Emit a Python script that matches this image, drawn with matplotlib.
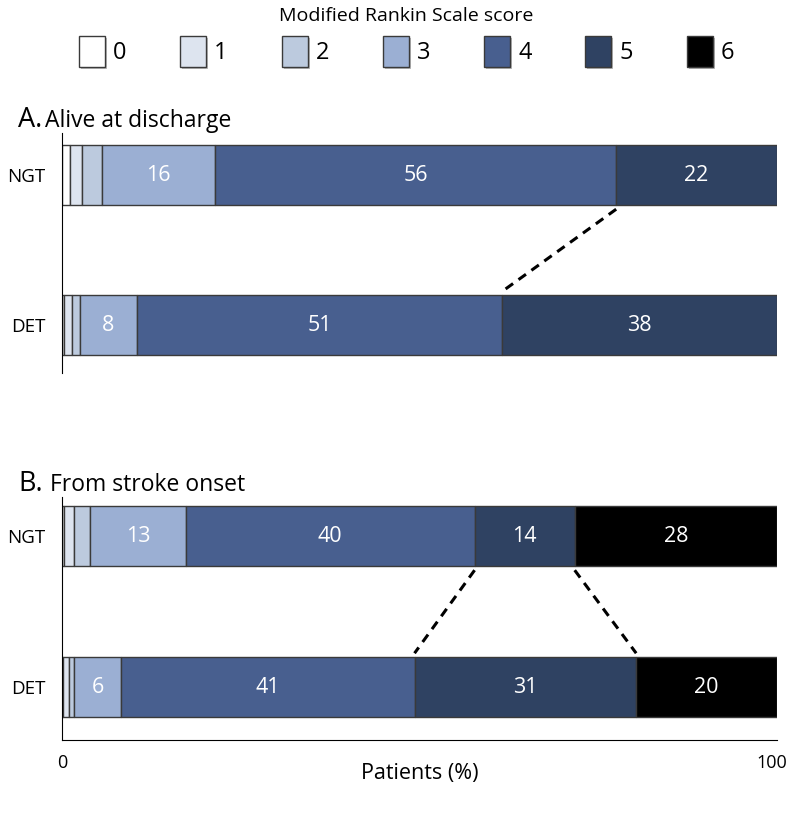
import matplotlib
matplotlib.use('Agg')
import matplotlib.pyplot as plt
import matplotlib.patheffects as pe
import matplotlib.transforms as mtrans
from matplotlib.patches import Patch

plt.rcParams['font.family'] = ['Open Sans', 'DejaVu Sans']

scores = ['0', '1', '2', '3', '4', '5', '6']
colors = ['#ffffff', '#dde4ef', '#bccade', '#9bafd3', '#485f8f', '#2f4262', '#000000']
groups = ['NGT', 'DET']

# percent of patients per mRS score
a_ngt = [1.1, 1.7, 2.8, 15.8, 56.1, 22.5, 0]
a_det = [0.3, 1.1, 1.1, 8.0, 51.0, 38.5, 0]
b_ngt = [0.3, 1.4, 2.2, 13.4, 40.4, 14.0, 28.3]
b_det = [0.2, 0.8, 0.7, 6.5, 41.1, 31.0, 19.7]

# numbers printed inside the segments
a_ngt_txt = ['', '', '', '16', '56', '22', '']
a_det_txt = ['', '', '', '8', '51', '38', '']
b_ngt_txt = ['', '', '', '13', '40', '14', '28']
b_det_txt = ['', '', '', '6', '41', '31', '20']

# which score boundaries get a dashed connector
a_links = [5]
b_links = [5, 6]

H = 0.4

fig = plt.figure(figsize=(7.88, 8.15), dpi=100)
ax_a = fig.add_axes([0.0787, 0.5423, 0.9074, 0.2945])
ax_b = fig.add_axes([0.0787, 0.0920, 0.9074, 0.2982])


def draw_panel(ax, rows, texts, links):
    starts_all = []
    for y, (vals, txt) in enumerate(zip(rows, texts)):
        left = 0
        starts = []
        for k in range(len(scores)):
            starts.append(left)
            if vals[k] > 0:
                ax.barh(y, vals[k], left=left, height=H, color=colors[k],
                        edgecolor='#3a3a3a', linewidth=1)
                if txt[k]:
                    ax.text(left + vals[k] / 2, y, txt[k], ha='center',
                            va='center', color='white', fontsize=15.5)
            left += vals[k]
        starts_all.append(starts)
    for k in links:
        ax.plot([starts_all[0][k], starts_all[1][k]],
                [H / 2 + 0.025, 1 - H / 2 - 0.025], color='black',
                linewidth=2.2, linestyle=(0, (3, 2.2)))
    ax.set_xlim(0, 100)
    ax.set_yticks([0, 1])
    ax.set_yticklabels(groups, fontsize=13.5)
    ax.tick_params(axis='y', length=0, pad=12)
    for s in ['top', 'right']:
        ax.spines[s].set_visible(False)


draw_panel(ax_a, [a_ngt, a_det], [a_ngt_txt, a_det_txt], a_links)
draw_panel(ax_b, [b_ngt, b_det], [b_ngt_txt, b_det_txt], b_links)

ax_a.set_ylim(1.317, -0.283)
ax_b.set_ylim(1.35, -0.26)

ax_a.spines['bottom'].set_visible(False)
ax_a.set_xticks([])

ax_b.set_xticks([0, 100])
ax_b.set_xticklabels(['0', '100'], fontsize=13)
ax_b.tick_params(axis='x', length=0, pad=10)
last = ax_b.get_xticklabels()[-1]
last.set_ha('right')
last.set_transform(last.get_transform() +
                   mtrans.ScaledTranslation(10 / 100, 0, fig.dpi_scale_trans))
ax_b.set_xlabel('Patients (%)', fontsize=15.5)
ax_b.xaxis.set_label_coords(0.5, -0.095)

fig.text(18 / 788, 1 - 127 / 815, 'A.', fontsize=19.5, va='baseline')
fig.text(45 / 788, 1 - 127 / 815, 'Alive at discharge', fontsize=16.5, va='baseline')
fig.text(18 / 788, 1 - 491 / 815, 'B.', fontsize=19.5, va='baseline')
fig.text(50 / 788, 1 - 491 / 815, 'From stroke onset', fontsize=16.5, va='baseline')

shadow = [pe.SimplePatchShadow(offset=(1.5, -1.5), shadow_rgbFace='#777777', alpha=0.5),
          pe.Normal()]
handles = [Patch(facecolor=c, edgecolor='#3a3a3a', linewidth=1, path_effects=shadow)
           for c in colors]
fig.legend(handles, scores, ncol=7, loc='upper center',
           bbox_to_anchor=(0.516, 1.018), frameon=False, fontsize=17,
           title='Modified Rankin Scale score', title_fontsize=14,
           handlelength=1.1, handleheight=1.6, handletextpad=0.35,
           columnspacing=2.27)

plt.savefig('out.png', dpi=100)
